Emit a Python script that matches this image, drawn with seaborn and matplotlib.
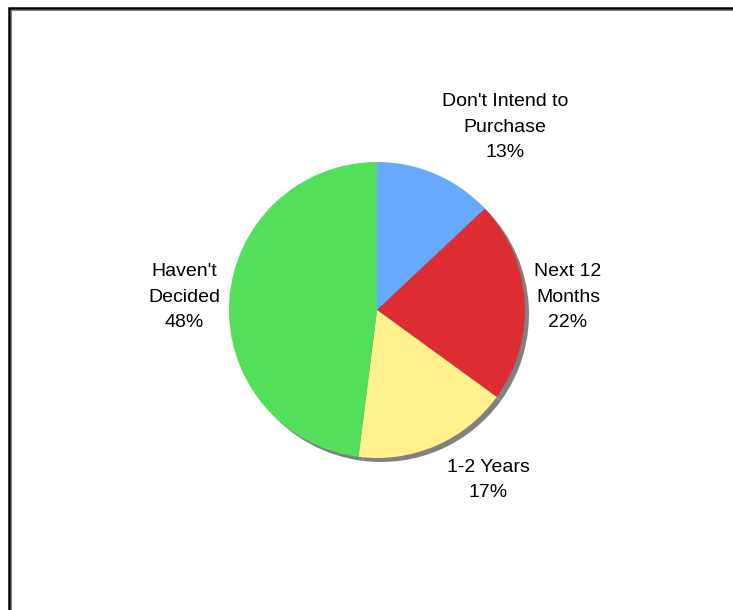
import matplotlib
matplotlib.use("Agg")
import matplotlib.pyplot as plt
from matplotlib.patches import Rectangle
import seaborn as sns

# Purchase intent shares (percent), clockwise from 12 o'clock
categories = ["Don't Intend to\nPurchase", "Next 12\nMonths", "1-2 Years", "Haven't\nDecided"]
shares = [13, 22, 17, 48]
colors = ["#66AAFF", "#DD2D33", "#FFF28C", "#52E05A"]

# Label anchor points (pixel space, y measured from top)
label_xy = [(505, 127), (568, 297), (488, 480), (184, 297)]

sns.set_theme(style="white")
plt.rcParams["font.family"] = ["Liberation Sans", "DejaVu Sans"]

W, H, DPI = 733, 610, 100
fig = plt.figure(figsize=(W / DPI, H / DPI), dpi=DPI)
fig.patch.set_facecolor("white")
ax = fig.add_axes([0, 0, 1, 1])

cx, cy, R = 377, H - 310, 148

# Drop shadow: the same pie in grey, shifted down-right
ax.pie(shares, colors=["#808080"] * len(shares), startangle=90, counterclock=False,
       center=(cx + 4, cy - 4), radius=R, frame=True,
       wedgeprops=dict(linewidth=0))
ax.pie(shares, colors=colors, startangle=90, counterclock=False,
       center=(cx, cy), radius=R, frame=True,
       wedgeprops=dict(linewidth=0))
ax.set_xlim(0, W)
ax.set_ylim(0, H)
ax.set_aspect("equal")
ax.axis("off")

for name, val, (lx, ly) in zip(categories, shares, label_xy):
    ax.text(lx, H - ly, f"{name}\n{val}%", ha="center", va="center",
            fontsize=14, color="black", linespacing=1.66)

# Chart area border (open to the right and bottom)
fig.patches.append(Rectangle((11 / W, -0.2), 1.2, (H - 9.6) / H + 0.2,
                             transform=fig.transFigure, fill=False,
                             edgecolor="#808080", linewidth=0.8))
fig.patches.append(Rectangle((9.3 / W, -0.2), 1.2, (H - 7.8) / H + 0.2,
                             transform=fig.transFigure, fill=False,
                             edgecolor="black", linewidth=1.8))

fig.savefig("out.png", dpi=DPI, facecolor="white")
